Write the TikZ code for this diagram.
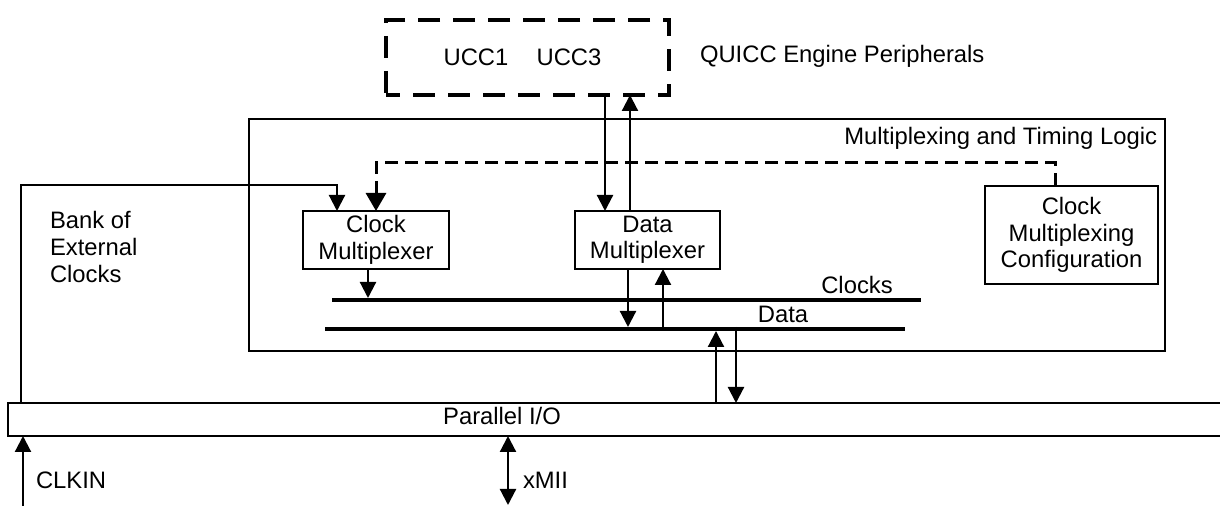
\documentclass[tikz,border=0pt]{standalone}
\usepackage{fontspec}
\setmainfont{Liberation Sans}
\usetikzlibrary{arrows.meta}
\begin{document}
\begin{tikzpicture}[x=0.5pt,y=-0.5pt,
  every node/.style={font=\fontsize{11.9}{13.2}\selectfont, inner sep=0pt, outer sep=0pt},
  box/.style={draw, line width=1.1pt, align=center},
  dbox/.style={draw, line width=1.7pt, dash pattern=on 11pt off 6.5pt, dash phase=4pt},
  arr/.style={line width=1.1pt, -{Triangle[width=8pt,length=8pt]}},
  darr/.style={line width=1.5pt, dash pattern=on 6.5pt off 3.5pt, -{Triangle[width=10pt,length=9pt]}},
  bus/.style={line width=2pt},
  lbl/.style={anchor=base west},
]
\useasboundingbox (0,0) rectangle (1220,506);

% boxes
\node[dbox, minimum width=141.5pt, minimum height=37.5pt] (quicc) at (527.5,57.5) {};
\node[anchor=base] (ucc1) at (476,66) {UCC1};
\node[anchor=base] (ucc3) at (569,66) {UCC3};
\node[lbl] (qlbl) at (700,63) {QUICC Engine Peripherals};

\node[box, minimum width=458pt, minimum height=116pt] (mtl) at (707,235) {};
\node[anchor=base east] (mtllbl) at (1157,145) {Multiplexing and Timing Logic};

\node[box, minimum width=73pt, minimum height=29pt] (cmux) at (376,240) {Clock\\Multiplexer};
\node[box, minimum width=72.5pt, minimum height=29pt] (dmux) at (647.5,240) {Data\\Multiplexer};
\node[box, minimum width=86.5pt, minimum height=49pt] (cfg) at (1071.5,235) {Clock\\Multiplexing\\Configuration};

\node[box, minimum width=611pt, minimum height=16.5pt] (pio) at (619,419.5) {};
\node[anchor=base] (piolbl) at (502,425) {Parallel I/O};

\node[anchor=base west, align=left, font=\fontsize{11.9}{13.5}\selectfont] (bank) at (50,283) {Bank of\\External\\Clocks};

% buses
\coordinate (cbusL) at (332,300);
\coordinate (cbusR) at (921,300);
\coordinate (dbusL) at (325,329);
\coordinate (dbusR) at (905,329);
\draw[bus] (cbusL) -- (cbusR);
\draw[bus] (dbusL) -- (dbusR);
\node[anchor=base] (clkslbl) at (857,294) {Clocks};
\node[anchor=base] (datalbl) at (783,323) {Data};

% x positions of vertical connectors
\coordinate (xbank) at (21,185);
\coordinate (xbt) at (337,0);
\coordinate (xdash) at (1055,163);
\coordinate (xqd) at (605,0);
\coordinate (xqu) at (630,0);
\coordinate (xcb) at (368,0);
\coordinate (xdd) at (628,0);
\coordinate (xdu) at (663,0);
\coordinate (xpu) at (716,0);
\coordinate (xpd) at (736,0);
\coordinate (clkin) at (23,506);
\coordinate (xmii) at (508,505);

% connectors
\draw[arr] (pio.north -| xbank) -- (xbank) -| (cmux.north -| xbt);
\draw[darr] (cfg.north -| xdash) -- (xdash) -| (cmux.north);
\draw[arr] (quicc.south -| xqd) -- (dmux.north -| xqd);
\draw[arr] (dmux.north -| xqu) -- (quicc.south -| xqu);
\draw[arr] (cmux.south -| xcb) -- ([yshift=1pt]cbusL -| xcb);
\draw[arr] (dmux.south -| xdd) -- ([yshift=1pt]dbusL -| xdd);
\draw[arr] ([yshift=-1pt]dbusL -| xdu) -- (dmux.south -| xdu);
\draw[arr] (pio.north -| xpu) -- ([yshift=-1pt]dbusL -| xpu);
\draw[arr] ([yshift=1pt]dbusL -| xpd) -- (pio.north -| xpd);
\draw[arr] (clkin) -- (pio.south -| clkin);
\draw[line width=1.1pt, {Triangle[width=8pt,length=8pt]}-{Triangle[width=8pt,length=8pt]}] (pio.south -| xmii) -- (xmii);

\node[lbl] (clklbl) at (36,489) {CLKIN};
\node[lbl] (xmiilbl) at (523,489) {xMII};
\end{tikzpicture}
\end{document}
